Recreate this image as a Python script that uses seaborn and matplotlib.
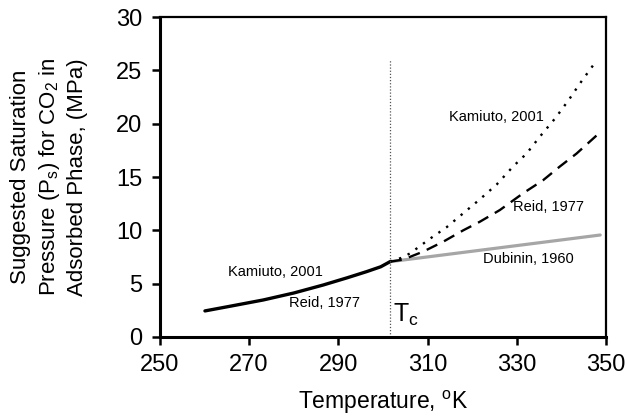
import numpy as np
import pandas as pd
import matplotlib
matplotlib.use("Agg")
import matplotlib.pyplot as plt
import seaborn as sns

# saturation pressure below Tc (shared by both models)
t_sub = [260.1, 266.0, 273.2, 280.0, 286.6, 292.0, 296.3, 299.5, 301.6]
p_sub = [2.44, 2.90, 3.47, 4.12, 4.87, 5.55, 6.12, 6.58, 7.06]

# above Tc
t_kam = [301.6, 304.0, 306.1, 307.9, 310.5, 314.3, 318.0, 321.7, 325.5,
         329.2, 332.2, 335.2, 338.6, 341.6, 344.2, 347.5]
p_kam = [7.06, 7.40, 7.84, 8.40, 9.20, 10.3, 11.6, 12.9, 14.3,
         16.0, 17.2, 18.8, 20.5, 22.2, 23.8, 25.7]

t_reid = [301.6, 304.5, 309.0, 313.5, 318.0, 321.7, 326.2, 331.5, 335.9,
          339.7, 343.4, 347.9]
p_reid = [7.06, 7.25, 8.00, 8.93, 10.0, 10.8, 11.9, 13.5, 14.7,
          16.0, 17.2, 18.9]

t_dub = [301.6, 348.7]
p_dub = [7.06, 9.56]

t_crit = 301.6
xticks = [250, 270, 290, 310, 330, 350]
yticks = [0, 5, 10, 15, 20, 25, 30]

sns.set_style("ticks")
plt.rcParams['font.family'] = ['Liberation Sans', 'DejaVu Sans']
plt.rcParams['mathtext.fontset'] = 'custom'
plt.rcParams['mathtext.rm'] = 'Liberation Sans'
plt.rcParams['mathtext.it'] = 'Liberation Sans'
for k in ['text.color', 'axes.labelcolor', 'xtick.color', 'ytick.color']:
    plt.rcParams[k] = 'black'

fig = plt.figure(figsize=(6.27, 4.17), dpi=100)
ax = fig.add_axes([0.255, 0.192, 0.7115, 0.767])

sns.lineplot(x=t_dub, y=p_dub, ax=ax, color="#a6a6a6", lw=2.3)
sns.lineplot(x=t_kam, y=p_kam, ax=ax, color="black", lw=1.7,
             linestyle=(0, (1, 3)))
sns.lineplot(x=t_reid, y=p_reid, ax=ax, color="black", lw=1.7,
             linestyle=(0, (5, 3.2)))
sns.lineplot(x=t_sub, y=p_sub, ax=ax, color="black", lw=2.4)
ax.plot([t_crit, t_crit], [0, 26.1], color="#555555", lw=0.9,
        linestyle=(0, (1, 1.5)))

ax.set_xlim(250, 350)
ax.set_ylim(0, 30)
ax.set_xticks(xticks)
ax.set_yticks(yticks)
ax.tick_params(labelsize=17, length=6, width=1.8, pad=6.5,
               direction="out", color="black", labelcolor="black")

for side in ["left", "bottom"]:
    ax.spines[side].set_linewidth(2.2)
for side in ["top", "right"]:
    ax.spines[side].set_linewidth(1.6)
for s in ax.spines.values():
    s.set_color("black")

ax.set_xlabel(r"Temperature, $\mathregular{^oK}$", fontsize=16.5, labelpad=9)
ax.set_ylabel("Suggested Saturation\n"
              r"Pressure (P$\mathregular{_s}$) for CO$\mathregular{_2}$ in" "\n"
              "Adsorbed Phase, (MPa)", fontsize=16, linespacing=1.33,
              labelpad=20)

fs = 10.5
ax.text(276.0, 6.1, "Kamiuto, 2001", fontsize=fs, ha="center", va="center")
ax.text(286.8, 3.2, "Reid, 1977", fontsize=fs, ha="center", va="center")
ax.text(325.5, 20.6, "Kamiuto, 2001", fontsize=fs, ha="center", va="center")
ax.text(337.2, 12.2, "Reid, 1977", fontsize=fs, ha="center", va="center")
ax.text(332.7, 7.3, "Dubinin, 1960", fontsize=fs, ha="center", va="center")
ax.text(302.2, 0.8, r"T$\mathregular{_c}$", fontsize=18, ha="left", va="bottom")

fig.savefig("out.png", dpi=100)
